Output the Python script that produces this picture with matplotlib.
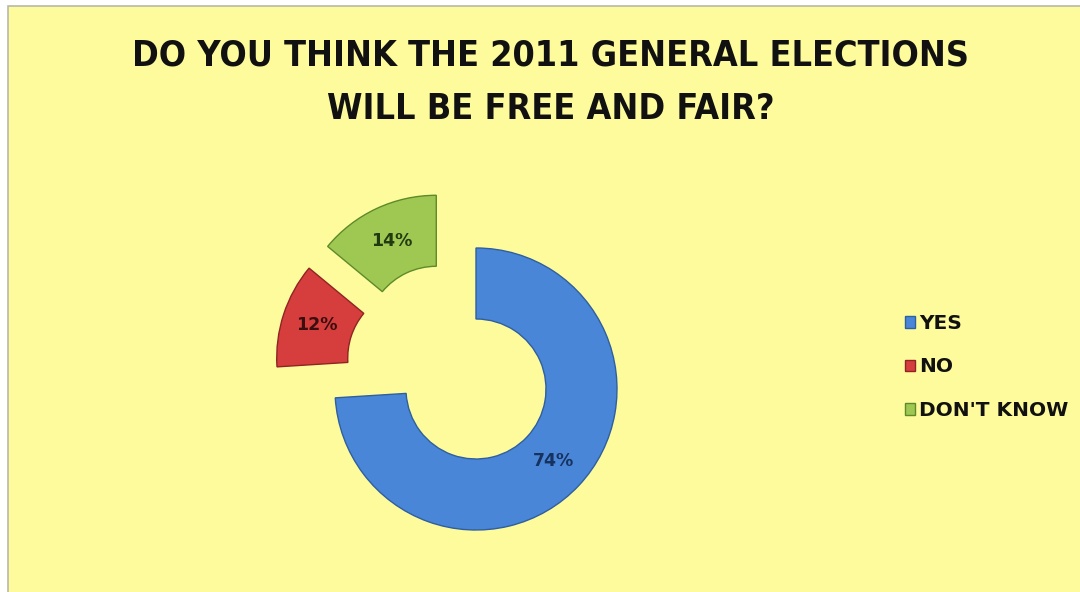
import math
import matplotlib
matplotlib.use('Agg')
import matplotlib.pyplot as plt
from matplotlib.patches import Rectangle
from matplotlib import font_manager

## survey answers
answers = ['YES', 'NO', "DON'T KNOW"]
shares = [74, 12, 14]
colors = ['#4A86D8', '#D63E3D', '#9FC852']
edges = ['#2F5F9E', '#8E2424', '#5E8A2A']
pct_colors = ['#16325E', '#3A0E0E', '#223A10']
# how far (px) and in which direction (deg) the small wedges are pulled out
pull_dist = [0, 66, 66]
pull_angle = [0, 152, 127]

title_lines = ['DO YOU THINK THE 2011 GENERAL ELECTIONS', 'WILL BE FREE AND FAIR?']

# narrow bold face for the heading if one is around
cond = font_manager.FontProperties(family='DejaVu Sans', stretch='condensed', weight='bold')
if 'Condensed' in font_manager.findfont(cond, fallback_to_default=True):
    title_font = dict(family='DejaVu Sans', fontstretch='condensed')
else:
    title_font = dict(family='Lato')

fig = plt.figure(figsize=(10.8, 5.92), dpi=100)
fig.patch.set_facecolor('white')
ax = fig.add_axes([0, 0, 1, 1])

# chart area
ax.add_patch(Rectangle((8, -2), 1080, 588, facecolor='#FDFB9C',
                       edgecolor='#B8B8A8', linewidth=1.2, zorder=0))

cx, cy = 476, 203
wedges, texts, pcts = ax.pie(
    shares, colors=colors,
    center=(cx, cy), radius=141, startangle=90, counterclock=False,
    wedgeprops=dict(width=71, linewidth=1.0),
    autopct='%d%%', pctdistance=0.75,
    textprops=dict(fontsize=12.5, fontweight='bold'),
    frame=True)

for w, t, ec, pc, d, a in zip(wedges, pcts, edges, pct_colors, pull_dist, pull_angle):
    w.set_edgecolor(ec)
    t.set_color(pc)
    dx = d * math.cos(math.radians(a))
    dy = d * math.sin(math.radians(a))
    w.set_center((cx + dx, cy + dy))
    x, y = t.get_position()
    t.set_position((x + dx, y + dy))

ax.set_xlim(0, 1080)
ax.set_ylim(0, 592)
ax.set_aspect('equal')
ax.axis('off')

# heading, sized so the first line spans about 837 px
renderer = fig.canvas.get_renderer()
heads = []
for line, ybase in zip(title_lines, [527, 473]):
    heads.append(ax.text(551, ybase, line, ha='center', va='baseline', fontsize=26,
                         fontweight='bold', color='#111111', **title_font))
w0 = heads[0].get_window_extent(renderer).width
for h in heads:
    h.set_fontsize(min(27, 26 * 837 / w0))

leg = ax.legend(wedges, answers, loc='center left',
                bbox_to_anchor=(897 / 1080, 225 / 592), frameon=False,
                borderaxespad=0, fontsize=14.5, handlelength=0.5,
                handleheight=0.5, handletextpad=0.2, labelspacing=1.22)
for t in leg.get_texts():
    t.set_fontweight('bold')
    t.set_color('#111111')

fig.savefig('out.png', dpi=100, facecolor=fig.get_facecolor())
